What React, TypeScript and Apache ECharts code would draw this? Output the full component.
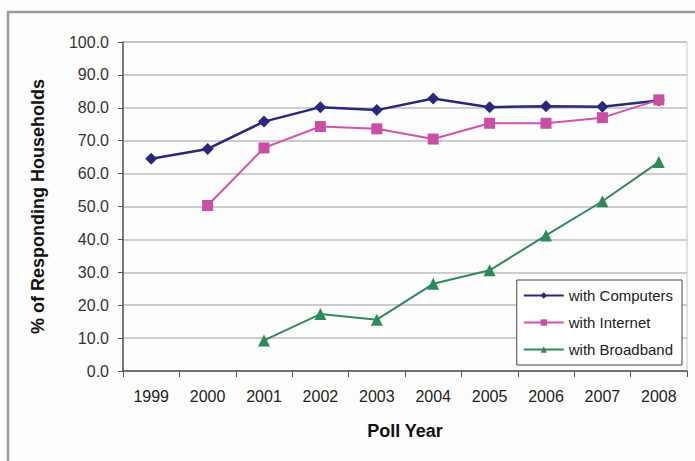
import React, { useEffect, useRef } from "react";
import * as echarts from "echarts";

const years = ["1999", "2000", "2001", "2002", "2003", "2004", "2005", "2006", "2007", "2008"];
const computers = [64.5, 67.5, 75.8, 80.2, 79.3, 82.8, 80.2, 80.5, 80.3, 82.2];
const internet = [null, 50.3, 67.8, 74.3, 73.6, 70.5, 75.3, 75.3, 77.0, 82.4];
const broadband = [null, null, 9.3, 17.3, 15.6, 26.5, 30.6, 41.2, 51.6, 63.5];
const seriesNames = ["with Computers", "with Internet", "with Broadband"];

export default function App() {
  const ref = useRef<HTMLDivElement>(null);
  useEffect(() => {
    const chart = echarts.init(ref.current!, null, { renderer: "svg" });
    const font = "Liberation Sans, Arial, sans-serif";
    chart.setOption({
      animation: false,
      backgroundColor: "#fdfdfd",
      textStyle: { fontFamily: font },
      graphic: [
        {
          type: "rect",
          shape: { x: 8, y: 12, width: 700, height: 460 },
          style: { fill: "none", stroke: "#9a9a9a", lineWidth: 2.5 },
          silent: true,
        },
      ],
      grid: { left: 123, right: 8, top: 42, bottom: 90, show: true, borderColor: "#c8c8c8", borderWidth: 1 },
      legend: {
        orient: "vertical",
        right: 13,
        top: 280,
        itemGap: 12,
        itemWidth: 40,
        itemHeight: 8,
        backgroundColor: "#ffffff",
        borderColor: "#444",
        borderWidth: 1,
        padding: [8, 9, 8, 6],
        textStyle: { fontFamily: font, fontSize: 15, color: "#222" },
        data: seriesNames,
      },
      xAxis: {
        type: "category",
        data: years,
        boundaryGap: true,
        name: "Poll Year",
        nameLocation: "middle",
        nameGap: 51,
        nameTextStyle: { fontFamily: font, fontSize: 18, fontWeight: "bold", color: "#111" },
        axisLine: { lineStyle: { color: "#555", width: 1.5 } },
        axisTick: { show: true, alignWithLabel: false, length: 6, lineStyle: { color: "#555" } },
        axisLabel: { fontFamily: font, fontSize: 16, color: "#222", margin: 17 },
      },
      yAxis: {
        type: "value",
        min: 0,
        max: 100,
        interval: 10,
        name: "% of Responding Households",
        nameLocation: "middle",
        nameGap: 76,
        nameTextStyle: { fontFamily: font, fontSize: 18, fontWeight: "bold", color: "#111" },
        axisLine: { show: true, lineStyle: { color: "#555", width: 1.5 } },
        axisTick: { show: true, length: 5, lineStyle: { color: "#555" } },
        axisLabel: { fontFamily: font, fontSize: 16, color: "#333", margin: 14, formatter: (v: number) => v.toFixed(1) },
        splitLine: { lineStyle: { color: "#bdbdbd", width: 1.5 } },
      },
      series: [
        {
          name: seriesNames[0],
          type: "line",
          data: computers,
          symbol: "diamond",
          symbolSize: 12,
          lineStyle: { color: "#28297a", width: 2.5 },
          itemStyle: { color: "#28297a" },
        },
        {
          name: seriesNames[1],
          type: "line",
          data: internet,
          symbol: "rect",
          symbolSize: 11,
          lineStyle: { color: "#d252ad", width: 2 },
          itemStyle: { color: "#c94fa5" },
        },
        {
          name: seriesNames[2],
          type: "line",
          data: broadband,
          symbol: "triangle",
          symbolSize: 12,
          lineStyle: { color: "#2f8a5a", width: 2 },
          itemStyle: { color: "#2f8a5a" },
        },
      ],
    });
    return () => chart.dispose();
  }, []);
  return <div ref={ref} style={{ width: 695, height: 461, position: "absolute", left: 0, top: 0 }} />;
}
